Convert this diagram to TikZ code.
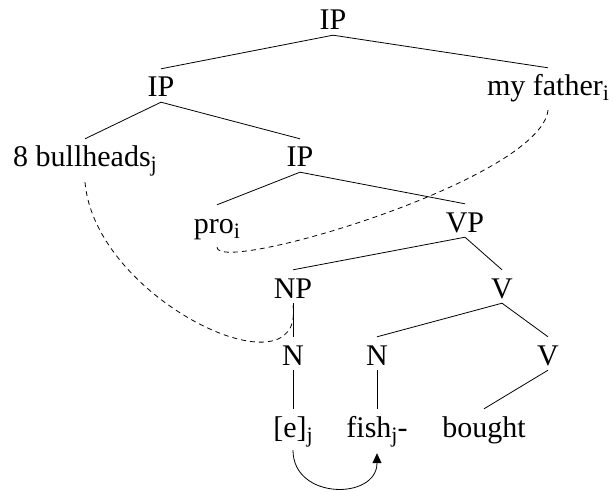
\documentclass[tikz,border=0pt]{standalone}
\usepackage{fontspec}
\setmainfont{Liberation Serif}
\usetikzlibrary{arrows.meta}
\newcommand\sbs[1]{\raisebox{-5pt}{\fontsize{22}{22}\selectfont #1}}
\begin{document}
\begin{tikzpicture}[x=1pt,y=-1pt,
  lab/.style={anchor=base, inner xsep=0pt, inner ysep=5pt, text height=23pt, text depth=0pt, font=\fontsize{30}{36}\selectfont},
  edge/.style={line width=0.8pt},
  coref/.style={line width=0.8pt, dash pattern=on 5pt off 4pt}]
\useasboundingbox (0,0) rectangle (613,492);
\node[lab] (ip1) at (333,30) {IP};
\node[lab] (ip2) at (161,97) {IP};
\node[lab] (fa) at (548,96) {my father\sbs{i}};
\node[lab] (bh) at (85,167) {8 bullheads\sbs{j}};
\node[lab] (ip3) at (300,167) {IP};
\node[lab] (pro) at (217,233) {pro\sbs{i}};
\node[lab] (vp) at (465,232) {VP};
\node[lab] (np) at (293,298) {NP};
\node[lab] (v1) at (502,298) {V};
\node[lab] (n1) at (293,365) {N};
\node[lab] (n2) at (377,365) {N};
\node[lab] (v2) at (548,365) {V};
\node[lab] (e) at (293,437) {[e]\sbs{j}};
\node[lab] (fish) at (377,437) {fish\sbs{j}-};
\node[lab] (bought) at (484,437) {bought};
\draw[edge] (ip1.south) -- (ip2.north);
\draw[edge] (ip1.south) -- (fa.north);
\draw[edge] (ip2.south) -- (bh.north);
\draw[edge] (ip2.south) -- (ip3.north);
\draw[edge] (ip3.south) -- (pro.north);
\draw[edge] (ip3.south) -- (vp.north);
\draw[edge] (vp.south) -- (np.north);
\draw[edge] (vp.south) -- (v1.north);
\draw[edge] (np.south) -- (n1.north);
\draw[edge] (v1.south) -- (n2.north);
\draw[edge] (v1.south) -- (v2.north);
\draw[edge] (n1.south) -- (e.north);
\draw[edge] (n2.south) -- (fish.north);
\draw[edge] (v2.south) -- (bought.north);
\draw[coref] ([yshift=-10pt]bh.south) .. controls +(10,118) and +(12,93) .. ([yshift=-2pt]np.south);
\draw[coref] ([yshift=-9pt]pro.south) .. controls +(0,28) and +(-8,70) .. ([yshift=-9pt]fa.south);
\draw[edge,-{Triangle[length=10pt,width=9pt]}] ([yshift=-8pt]e.south) .. controls +(0,50) and +(0,47) .. ([yshift=-11pt]fish.south);
\end{tikzpicture}
\end{document}
